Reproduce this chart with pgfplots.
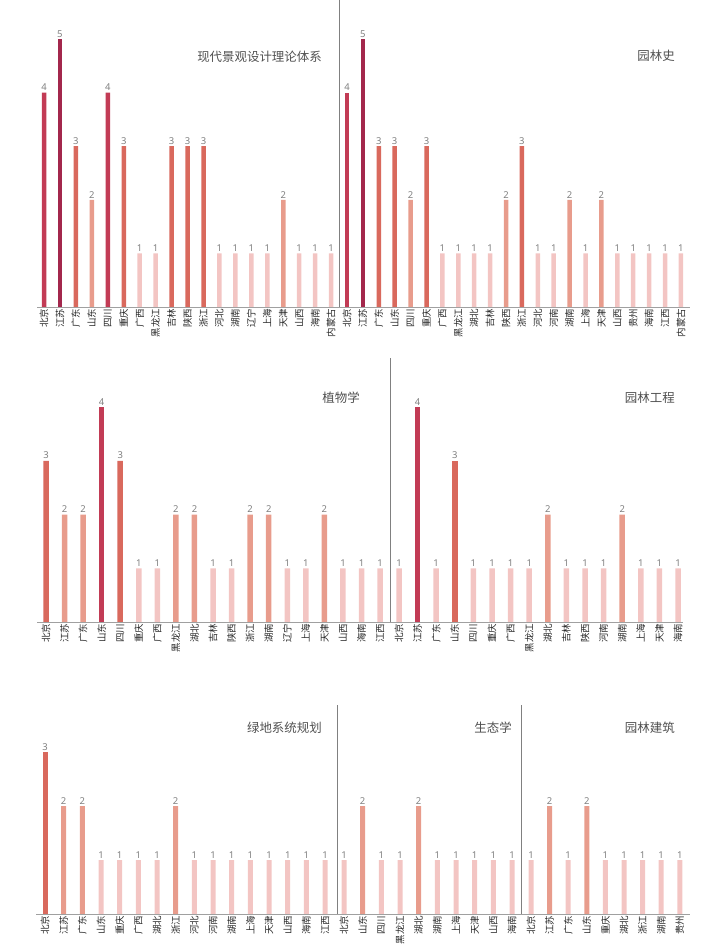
\documentclass[border=0pt]{standalone}
\usepackage{fontspec}
\usepackage{pgfplots}
\pgfplotsset{compat=1.18}
\usepackage{pgfplotstable}
\setmainfont{Noto Sans}
\newfontfamily\cjk{Noto Sans CJK SC}

\definecolor{v1}{HTML}{F3C5C3}
\definecolor{v2}{HTML}{E89C8C}
\definecolor{v3}{HTML}{D9695D}
\definecolor{v4}{HTML}{C23B55}
\definecolor{v5}{HTML}{A3274C}
\definecolor{num}{HTML}{808080}
\definecolor{lab}{HTML}{262626}
\definecolor{ttl}{HTML}{505050}
\definecolor{rule}{HTML}{A0A0A0}

% one table per panel: x = position, y = count
\pgfplotstableread{
x y
0 4
1 5
2 3
3 2
4 4
5 3
6 1
7 1
8 3
9 3
10 3
11 1
12 1
13 1
14 1
15 2
16 1
17 1
18 1
}\tabA
\pgfplotstableread{
x y
0 4
1 5
2 3
3 3
4 2
5 3
6 1
7 1
8 1
9 1
10 2
11 3
12 1
13 1
14 2
15 1
16 2
17 1
18 1
19 1
20 1
21 1
}\tabB
\pgfplotstableread{
x y
0 3
1 2
2 2
3 4
4 3
5 1
6 1
7 2
8 2
9 1
10 1
11 2
12 2
13 1
14 1
15 2
16 1
17 1
18 1
}\tabC
\pgfplotstableread{
x y
0 1
1 4
2 1
3 3
4 1
5 1
6 1
7 1
8 2
9 1
10 1
11 1
12 2
13 1
14 1
15 1
}\tabD
\pgfplotstableread{
x y
0 3
1 2
2 2
3 1
4 1
5 1
6 1
7 2
8 1
9 1
10 1
11 1
12 1
13 1
14 1
15 1
}\tabE
\pgfplotstableread{
x y
0 1
1 2
2 1
3 1
4 2
5 1
6 1
7 1
8 1
9 1
}\tabF
\pgfplotstableread{
x y
0 1
1 2
2 1
3 2
4 1
5 1
6 1
7 1
8 1
}\tabG

\pgfplotsset{
  panel/.style={
    anchor=origin, ymin=0, clip=false,
    axis line style={draw=none},
    major tick length=0pt,
    ytick=\empty,
    xticklabel style={rotate=90, anchor=east, font=\cjk\fontsize{9.5}{10}\selectfont, text=lab, inner sep=1.5bp},
    /pgf/number format/assume math mode=true,
    every node near coord/.append style={font=\fontsize{9.5}{10}\selectfont, text=num, anchor=south, inner sep=1.5bp},
  },
}
\newcommand\bars[1]{%
  \pgfplotsinvokeforeach{1,...,5}{%
    \addplot[ybar, bar shift=0pt, fill=v##1, draw=none, nodes near coords,
      y filter/.expression={y==##1 ? y : nan}]
      table {#1};
  }}

\begin{document}
\begin{tikzpicture}
\path[use as bounding box] (0bp,0bp) rectangle (720bp,-947bp);

% row 1
\begin{axis}[panel, at={(44bp,-307bp)}, x=15.95bp, y=53.6bp, xmin=-0.5, xmax=18.5, ymax=5.3,
  bar width=4.5bp, xtick={0,...,18},
  xticklabels={北京,江苏,广东,山东,四川,重庆,广西,黑龙江,吉林,陕西,浙江,河北,湖南,辽宁,上海,天津,山西,海南,内蒙古}]
\bars{\tabA}
\end{axis}
\begin{axis}[panel, at={(347bp,-307bp)}, x=15.9bp, y=53.6bp, xmin=-0.5, xmax=21.5, ymax=5.3,
  bar width=4.5bp, xtick={0,...,21},
  xticklabels={北京,江苏,广东,山东,四川,重庆,广西,黑龙江,湖北,吉林,陕西,浙江,河北,河南,湖南,上海,天津,山西,贵州,海南,江西,内蒙古}]
\bars{\tabB}
\end{axis}

% row 2
\begin{axis}[panel, at={(46bp,-622bp)}, x=18.56bp, y=53.75bp, xmin=-0.5, xmax=18.5, ymax=4.3,
  bar width=5.5bp, xtick={0,...,18},
  xticklabels={北京,江苏,广东,山东,四川,重庆,广西,黑龙江,湖北,吉林,陕西,浙江,湖南,辽宁,上海,天津,山西,海南,江西}]
\bars{\tabC}
\end{axis}
\begin{axis}[panel, at={(399bp,-622bp)}, x=18.6bp, y=53.75bp, xmin=-0.5, xmax=15.5, ymax=4.3,
  bar width=5.5bp, xtick={0,...,15},
  xticklabels={北京,江苏,广东,山东,四川,重庆,广西,黑龙江,湖北,吉林,陕西,河南,湖南,上海,天津,海南}]
\bars{\tabD}
\end{axis}

% row 3
\begin{axis}[panel, at={(45bp,-914bp)}, x=18.67bp, y=54bp, xmin=-0.5, xmax=15.5, ymax=3.3,
  bar width=5bp, xtick={0,...,15},
  xticklabels={北京,江苏,广东,山东,重庆,广西,湖北,浙江,河北,河南,湖南,上海,天津,山西,海南,江西}]
\bars{\tabE}
\end{axis}
\begin{axis}[panel, at={(344bp,-914bp)}, x=18.67bp, y=54bp, xmin=-0.5, xmax=9.5, ymax=3.3,
  bar width=5bp, xtick={0,...,9},
  xticklabels={北京,山东,四川,黑龙江,湖北,湖南,上海,天津,山西,海南}]
\bars{\tabF}
\end{axis}
\begin{axis}[panel, at={(531bp,-914bp)}, x=18.6bp, y=54bp, xmin=-0.5, xmax=8.5, ymax=3.3,
  bar width=5bp, xtick={0,...,8},
  xticklabels={北京,江苏,广东,山东,重庆,湖北,浙江,湖南,贵州}]
\bars{\tabG}
\end{axis}

% baselines and separators
\draw[rule, line width=0.9bp] (37bp,-307bp) -- (690bp,-307bp);
\draw[rule, line width=0.9bp] (37bp,-622bp) -- (683bp,-622bp);
\draw[rule, line width=0.9bp] (36bp,-914bp) -- (690bp,-914bp);
\draw[gray, line width=0.9bp] (339bp,0bp) -- (339bp,-307bp);
\draw[gray, line width=0.9bp] (390bp,-358bp) -- (390bp,-622bp);
\draw[gray, line width=0.9bp] (337bp,-705bp) -- (337bp,-914bp);
\draw[gray, line width=0.9bp] (521bp,-705bp) -- (521bp,-914bp);

% panel titles
\begin{scope}[every node/.style={anchor=east, text=ttl, inner sep=0pt, font=\cjk\fontsize{12.5}{13}\selectfont}]
\node at (322bp,-57bp) {现代景观设计理论体系};
\node at (675bp,-56bp) {园林史};
\node at (360bp,-398bp) {植物学};
\node at (675bp,-398bp) {园林工程};
\node at (322bp,-728bp) {绿地系统规划};
\node at (512bp,-728bp) {生态学};
\node at (675bp,-728bp) {园林建筑};
\end{scope}
\end{tikzpicture}
\end{document}
